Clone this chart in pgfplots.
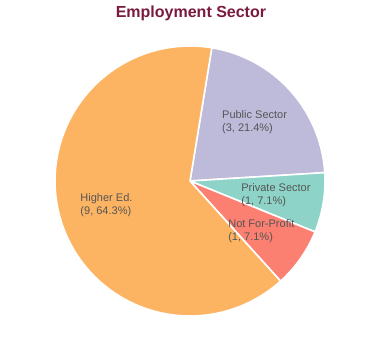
\documentclass[border=0pt]{standalone}
\usepackage{pgfplots}
\usepackage{pgfplotstable}
\pgfplotsset{compat=1.18}
\usepackage{fontspec}
\setmainfont{Liberation Sans}
\definecolor{cHigher}{HTML}{FDB462}
\definecolor{cPublic}{HTML}{BEBADA}
\definecolor{cPrivate}{HTML}{8DD3C7}
\definecolor{cNFP}{HTML}{FB8072}
\definecolor{titlecol}{HTML}{7A1A3E}
\definecolor{labcol}{HTML}{555555}

\pgfplotstableread{
count
3
1
1
9
}\datatable

\begin{document}
\begin{tikzpicture}
\pgfplotstablegetelem{0}{count}\of\datatable \let\cA\pgfplotsretval
\pgfplotstablegetelem{1}{count}\of\datatable \let\cB\pgfplotsretval
\pgfplotstablegetelem{2}{count}\of\datatable \let\cC\pgfplotsretval
\pgfplotstablegetelem{3}{count}\of\datatable \let\cD\pgfplotsretval
\pgfmathsetmacro{\tot}{\cA+\cB+\cC+\cD}
\pgfmathsetmacro{\aZ}{80.7}
\pgfmathsetmacro{\aA}{\aZ-360*\cA/\tot}
\pgfmathsetmacro{\aB}{\aA-360*\cB/\tot}
\pgfmathsetmacro{\aC}{\aB-360*\cC/\tot}
\pgfmathsetmacro{\aD}{\aC-360*\cD/\tot}
\pgfmathsetmacro{\mA}{(\aZ+\aA)/2}
\pgfmathsetmacro{\mB}{(\aA+\aB)/2}
\pgfmathsetmacro{\mC}{(\aB+\aC)/2}
\pgfmathsetmacro{\mD}{(\aC+\aD)/2}
\def\lr{0.645}
\begin{axis}[
  x=135pt, y=135pt,
  xmin=-1.4074, xmax=1.4074,
  ymin=-1.3259, ymax=1.3407,
  hide axis, clip=false,
  scale only axis,
]
\path (axis cs:-1.4074,-1.3259) rectangle (axis cs:1.4074,1.3407);
\addplot[fill=cPublic, draw=white, line width=1.6pt, line join=round, domain=\aA:\aZ, samples=60, variable=\t] ({cos(\t)},{sin(\t)}) -- (axis cs:0,0) -- cycle;
\addplot[fill=cPrivate, draw=white, line width=1.6pt, line join=round, domain=\aB:\aA, samples=30, variable=\t] ({cos(\t)},{sin(\t)}) -- (axis cs:0,0) -- cycle;
\addplot[fill=cNFP, draw=white, line width=1.6pt, line join=round, domain=\aC:\aB, samples=30, variable=\t] ({cos(\t)},{sin(\t)}) -- (axis cs:0,0) -- cycle;
\addplot[fill=cHigher, draw=white, line width=1.6pt, line join=round, domain=\aD:\aC, samples=150, variable=\t] ({cos(\t)},{sin(\t)}) -- (axis cs:0,0) -- cycle;
\node[align=left, text=labcol, font=\fontsize{11}{13}\selectfont] at (axis cs:{\lr*cos(\mA)},{\lr*sin(\mA)}) {Public Sector\\(3, 21.4\%)};
\node[align=left, text=labcol, font=\fontsize{11}{13}\selectfont] at (axis cs:{\lr*cos(\mB)},{\lr*sin(\mB)}) {Private Sector\\(1, 7.1\%)};
\node[align=left, text=labcol, font=\fontsize{11}{13}\selectfont] at (axis cs:{\lr*cos(\mC)},{\lr*sin(\mC)}) {Not For-Profit\\(1, 7.1\%)};
\node[align=left, text=labcol, font=\fontsize{11}{13}\selectfont] at (axis cs:{\lr*cos(\mD)},{\lr*sin(\mD)}) {Higher Ed.\\(9, 64.3\%)};
\node[text=titlecol, font=\bfseries\fontsize{16}{19}\selectfont] at (axis cs:0.007,1.244) {Employment Sector};
\end{axis}
\end{tikzpicture}
\end{document}
